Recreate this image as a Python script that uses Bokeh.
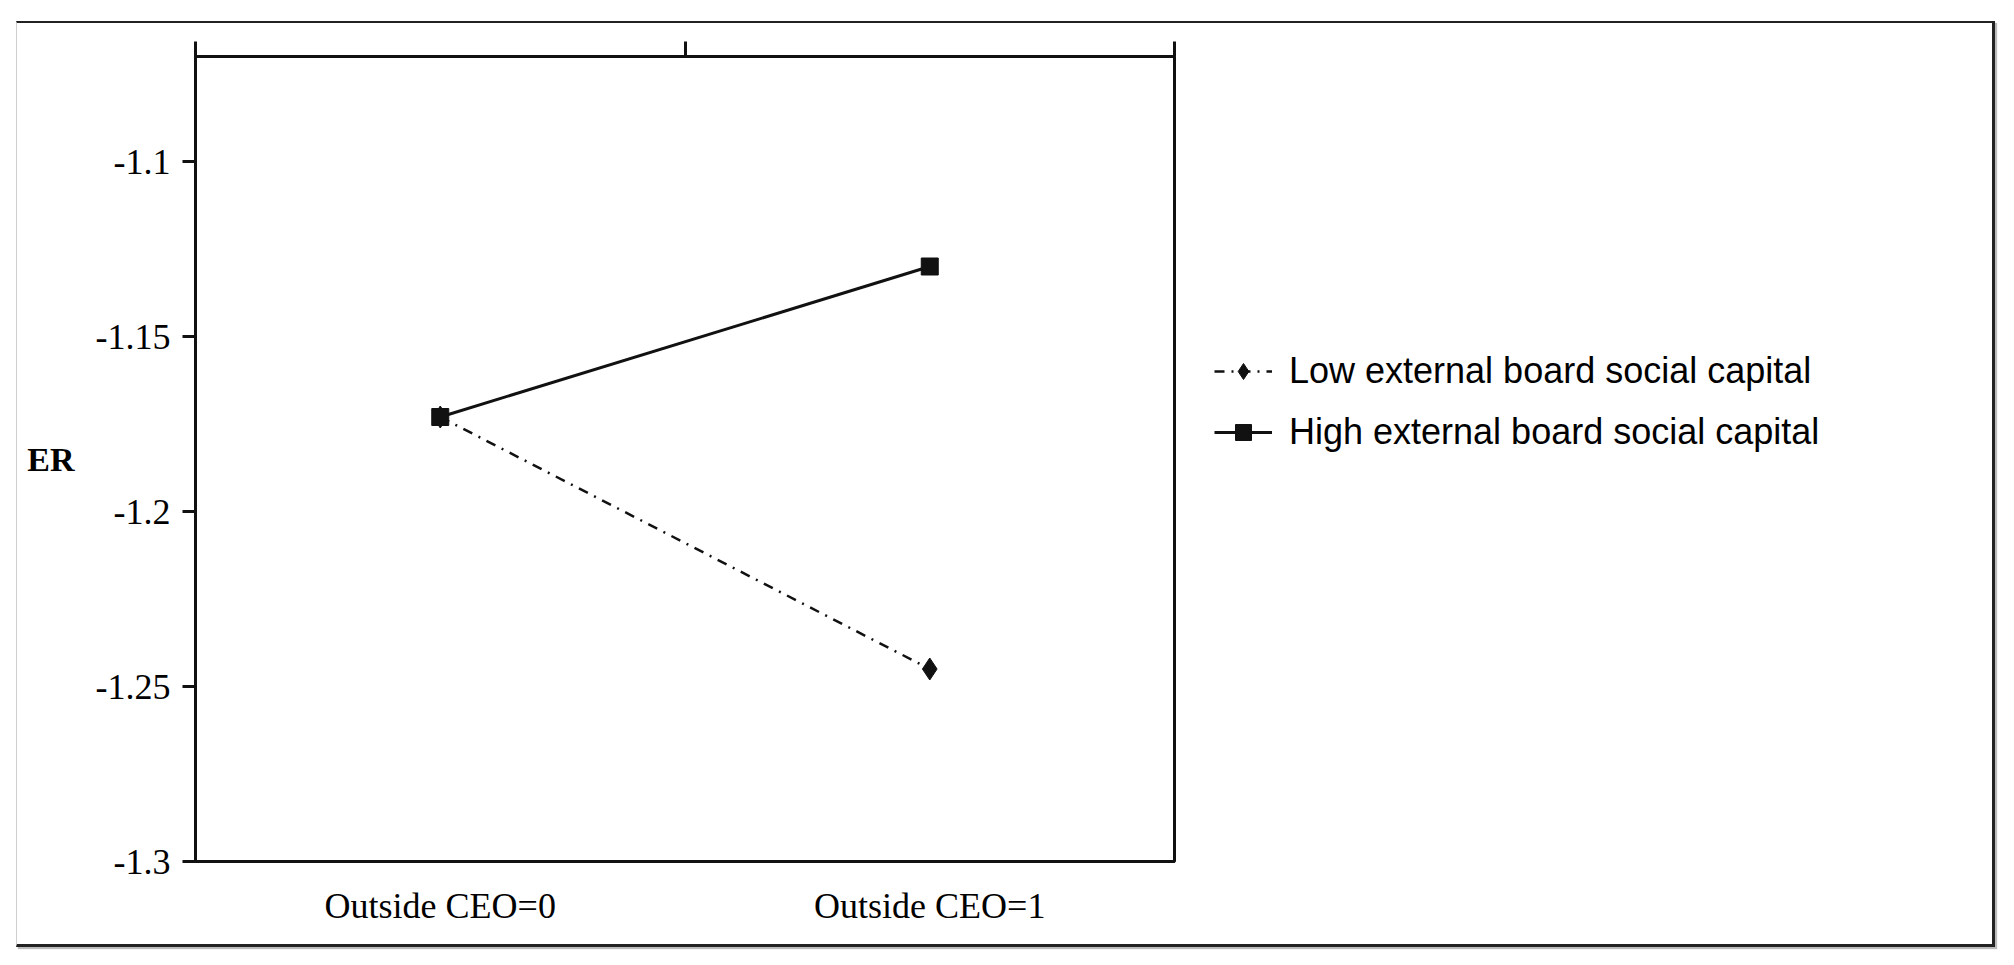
from bokeh.plotting import figure
from bokeh.models import (ColumnDataSource, Range1d, LinearAxis, FixedTicker,
                          Legend, LegendItem, CustomJSTickFormatter)
from bokeh.layouts import row
from bokeh.embed import file_html
from bokeh.resources import INLINE

# ---- data ----
categories = ["Outside CEO=0", "Outside CEO=1"]
low_label = "Low external board social capital"
high_label = "High external board social capital"
low_values = [-1.173, -1.245]
high_values = [-1.173, -1.130]
y_ticks = [-1.3, -1.25, -1.2, -1.15, -1.1]
y_title = "ER"

INK = "#111111"
SERIF = "Liberation Serif"
SANS = "Liberation Sans"

# category slots: each category occupies one unit, mark at its centre
xpos = [i + 0.5 for i in range(len(categories))]
low_src = ColumnDataSource(data=dict(x=xpos, y=low_values))
high_src = ColumnDataSource(data=dict(x=xpos, y=high_values))

TOTAL_W, H = 1975, 921
FL, FT, FR, FB = 178, 33, 1157, 838   # frame edges inside the chart figure
PW = FR + 3
p = figure(x_range=Range1d(0, len(categories)),
           y_range=Range1d(-1.3, -1.07),
           width=PW, height=H, output_backend="svg", toolbar_location=None,
           min_border_left=FL, min_border_top=FT,
           min_border_right=PW - FR, min_border_bottom=H - FB)

p.xgrid.visible = False
p.ygrid.visible = False
p.outline_line_color = INK
p.outline_line_width = 3
p.background_fill_color = "white"
p.border_fill_color = "white"

# y axis
ya = p.yaxis[0]
ya.ticker = FixedTicker(ticks=y_ticks)
ya.formatter = CustomJSTickFormatter(code="return String(parseFloat(tick.toFixed(2)))")
ya.major_tick_out = 13
ya.major_tick_in = 0
ya.minor_tick_out = 0
ya.minor_tick_in = 0
ya.major_tick_line_width = 3
ya.major_tick_line_color = INK
ya.axis_line_width = 3
ya.axis_line_color = INK
ya.major_label_standoff = 12
ya.major_label_text_font = SERIF
ya.major_label_text_font_size = "36px"
ya.major_label_text_color = "black"
ya.axis_label = y_title
ya.axis_label_orientation = "horizontal"
ya.axis_label_text_font = SERIF
ya.axis_label_text_font_style = "bold"
ya.axis_label_text_font_size = "34px"
ya.axis_label_text_color = "black"
ya.axis_label_standoff = 18

# bottom axis: category names at slot centres
xa = p.xaxis[0]
xa.ticker = FixedTicker(ticks=xpos)
xa.major_label_overrides = {x: c for x, c in zip(xpos, categories)}
xa.major_tick_out = 0
xa.major_tick_in = 0
xa.minor_tick_out = 0
xa.minor_tick_in = 0
xa.axis_line_width = 3
xa.axis_line_color = INK
xa.major_label_standoff = 24
xa.major_label_text_font = SERIF
xa.major_label_text_font_size = "36px"
xa.major_label_text_color = "black"

# top axis with ticks at the slot boundaries, no labels
ta = LinearAxis(ticker=FixedTicker(ticks=list(range(len(categories) + 1))),
                formatter=CustomJSTickFormatter(code="return ''"),
                major_tick_out=15, major_tick_in=0, minor_tick_out=0, minor_tick_in=0,
                major_tick_line_width=3, major_tick_line_color=INK,
                axis_line_width=3, axis_line_color=INK,
                major_label_text_color=None, major_label_text_font_size="1px",
                major_label_standoff=0)
p.add_layout(ta, "above")

# series
line_low = dict(line_color=INK, line_width=2.5, line_dash="10 7 2 7")
mark_low = dict(marker="diamond", size=22, fill_color=INK, line_color=INK)
line_high = dict(line_color=INK, line_width=3)
mark_high = dict(marker="square", size=17, fill_color=INK, line_color=INK)

p.line("x", "y", source=low_src, **line_low)
p.scatter("x", "y", source=low_src, **mark_low)
p.line("x", "y", source=high_src, **line_high)
p.scatter("x", "y", source=high_src, **mark_high)

# legend area to the right of the chart (same series, drawn outside its view)
LW = TOTAL_W - PW
q = figure(x_range=Range1d(10, 11), y_range=Range1d(10, 11), width=LW, height=H,
           output_backend="svg", toolbar_location=None,
           x_axis_location=None, y_axis_location=None, min_border=0)
q.xgrid.visible = False
q.ygrid.visible = False
q.outline_line_color = None
q.background_fill_color = "white"
q.border_fill_color = "white"
ql = q.line("x", "y", source=low_src, **line_low)
qs = q.scatter("x", "y", source=low_src, **mark_low)
qhl = q.line("x", "y", source=high_src, **line_high)
qhs = q.scatter("x", "y", source=high_src, **mark_high)

legend = Legend(items=[LegendItem(label=low_label, renderers=[ql, qs]),
                       LegendItem(label=high_label, renderers=[qhl, qhs])],
                location=(27, 398), orientation="vertical",
                label_text_font=SANS, label_text_font_size="36px", label_text_color="black",
                glyph_width=58, glyph_height=40, label_height=40, label_standoff=17,
                spacing=19, padding=10, margin=0,
                border_line_alpha=0, background_fill_alpha=0)
q.add_layout(legend)

layout = row(p, q, styles={"border-top": "2px solid #222", "border-left": "1px solid #cfcfcf",
                           "border-right": "3px solid #222", "border-bottom": "3px solid #222",
                           "box-shadow": "2px 2px 1px #bbbbbb",
                           "transform": "translate(16px, 21px)"})

open("out.html", "w").write(file_html(layout, INLINE))
